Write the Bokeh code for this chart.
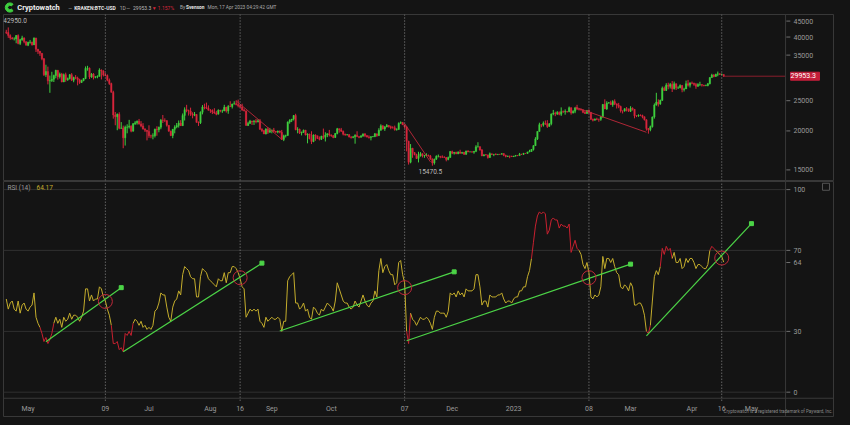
import numpy as np
import pandas as pd
from bokeh.plotting import figure
from bokeh.layouts import column
from bokeh.models import (Range1d, FixedTicker, Span, Label, ColumnDataSource,
                          NumeralTickFormatter)
from bokeh.core.properties import value
from bokeh.embed import file_html
from bokeh.resources import INLINE

# ---------------------------------------------------------------- data
START = "2022-04-20"
first_open = 41500

closes = [
    # Apr 2022 (20-30)
    41370, 40480, 39710, 39450, 39450, 40430, 38120, 39240, 39740, 38600, 37640,
    # May
    38470, 38530, 37750, 39690, 36550, 36010, 35470, 34060, 30300, 31020,
    28940, 29030, 29280, 30100, 31300, 29860, 30420, 28700, 30300, 29190,
    29430, 30300, 29100, 29650, 29540, 29200, 28620, 29020, 29460, 31730, 31790,
    # Jun
    29800, 30450, 29700, 29860, 29900, 31370, 31130, 30200, 30100, 29100,
    28400, 26600, 22500, 22200, 22600, 20400, 20450, 19000, 20550, 20570,
    20720, 19970, 21100, 21230, 21500, 21040, 20740, 20280, 20100, 19930,
    # Jul
    19300, 19250, 19300, 20230, 20190, 20550, 21630, 21600, 21590, 20850,
    19960, 19330, 20230, 20580, 20830, 21190, 20790, 22430, 23400, 23230,
    23160, 22680, 22460, 22580, 21310, 21250, 22950, 23850, 23780, 23640, 23300,
    # Aug
    23270, 22980, 22820, 22620, 23310, 23170, 23170, 23810, 23160, 23950,
    23930, 24400, 24440, 24300, 24100, 23850, 23340, 23200, 20830, 21140,
    21520, 21400, 21530, 21380, 21560, 20250, 20040, 19550, 20290, 19800, 20050,
    # Sep
    20130, 19950, 19830, 19990, 19800, 18790, 19290, 19320, 21360, 21650,
    21830, 22400, 20170, 20230, 19700, 19800, 20110, 19420, 19540, 18880,
    18490, 19410, 19300, 18920, 18800, 19220, 19080, 19410, 19590, 19420,
    # Oct
    19310, 19050, 19620, 20330, 20160, 19950, 19530, 19420, 19440, 19130,
    19060, 19150, 19380, 19180, 19070, 19260, 19550, 19330, 19120, 19040,
    19160, 19200, 19570, 19330, 20090, 20770, 20290, 20600, 20810, 20630, 20490,
    # Nov
    20480, 20160, 20200, 21150, 21300, 20910, 20600, 18540, 15880, 17590,
    17040, 16800, 16330, 16620, 16900, 16660, 16690, 16700, 16630, 16280,
    15780, 16230, 16600, 16600, 16520, 16460, 16440, 16210, 16440, 17170,
    # Dec
    16970, 17090, 16890, 17110, 16970, 17090, 16840, 17230, 17130, 17130,
    17100, 17200, 17780, 17810, 17360, 16630, 16780, 16740, 16440, 16900,
    16820, 16830, 16780, 16840, 16830, 16920, 16700, 16550, 16630, 16600, 16540,
    # Jan 2023
    16620, 16680, 16670, 16850, 16830, 16950, 16940, 17120, 17180, 17440,
    17940, 18850, 19930, 20950, 20870, 21180, 21130, 20670, 21070, 22670,
    22780, 22710, 22920, 22620, 23060, 23010, 23080, 23030, 23740, 22830, 23130,
    # Feb
    23730, 23490, 23430, 23330, 22940, 22760, 23240, 22960, 21800, 21630,
    21860, 21790, 21780, 22200, 24330, 23530, 24570, 24630, 24280, 24840,
    24450, 24190, 23950, 23190, 23160, 23560, 23490, 23140,
    # Mar
    23650, 23470, 22360, 22350, 22430, 22410, 22210, 21710, 20360, 20190,
    20630, 22160, 24200, 24750, 24380, 25060, 27420, 26970, 28040, 27790,
    28170, 27310, 28330, 27490, 27500, 27990, 27130, 27270, 28350, 28030, 28480,
    # Apr (1-17)
    28460, 28200, 27800, 28170, 28170, 28040, 27920, 27950, 28330, 29650,
    30230, 29890, 30390, 30490, 30320, 30320, 29953.3,
]

highs = [
    42200, 42950, 40800, 39990, 39930, 40600, 40800, 39470, 40380, 39900, 38800,
    38650, 39150, 38650, 39900, 39800, 36650, 36100, 35500, 34250, 32600,
    32150, 30100, 30950, 30300, 31400, 31300, 30780, 30700, 30550, 30750,
    29650, 30450, 30650, 29850, 30200, 29850, 29400, 29200, 29550, 32200, 32350,
    31950, 30650, 30650, 29950, 30150, 31750, 31500, 31300, 30650, 30350,
    29450, 28550, 26900, 23000, 22750, 22950, 21350, 20800, 20800, 21000,
    21700, 20850, 21200, 21500, 21600, 21850, 21500, 21180, 20400, 20150,
    20850, 19450, 19650, 20350, 20700, 20650, 21850, 22500, 21950, 21600,
    20850, 20050, 20300, 20850, 21200, 21600, 21650, 22750, 23800, 24250,
    23400, 23750, 22950, 23000, 22650, 21450, 23100, 24200, 24450, 24650, 24150,
    23500, 23450, 23650, 23200, 23450, 23350, 23400, 24250, 23900, 24200,
    24900, 24450, 24900, 25050, 25200, 24250, 24450, 23600, 23200, 21400,
    21700, 21550, 21650, 21850, 21800, 21850, 20400, 20150, 20400, 20550, 20450,
    20200, 20450, 19980, 20050, 20050, 20150, 19450, 19450, 21450, 21800,
    21850, 22500, 22700, 20550, 20350, 19900, 20200, 20150, 19650, 19600,
    19950, 19500, 19500, 19300, 19200, 19300, 20350, 19800, 19650, 20150,
    19480, 19400, 19700, 20450, 20350, 20450, 20050, 19600, 19550, 19550,
    19250, 19250, 19500, 19950, 19200, 19400, 19650, 19700, 19350, 19350,
    19250, 19250, 19700, 19600, 20400, 21000, 20850, 20750, 21050, 20900, 20800,
    20700, 20800, 20400, 21300, 21450, 21350, 20950, 20700, 18600, 18150,
    17650, 17100, 16900, 17150, 17100, 16950, 16750, 16950, 16800, 16750,
    16300, 16300, 16700, 16800, 16600, 16700, 16600, 16480, 16550, 17250,
    17300, 17100, 17150, 17200, 17400, 17100, 17100, 17300, 17350, 17200,
    17250, 17250, 18000, 18400, 17850, 17500, 16800, 16850, 16800, 17050,
    16900, 16850, 16950, 16850, 16850, 16950, 16950, 16780, 16650, 16650, 16650,
    16630, 16750, 16750, 17000, 16880, 17000, 16960, 17150, 17400, 17500,
    18000, 19100, 19950, 21250, 21000, 21450, 21600, 21650, 21200, 22750,
    23350, 23050, 23150, 23100, 23800, 23250, 23450, 23150, 23950, 23800, 23300,
    23800, 24250, 23600, 23600, 23450, 23150, 23350, 23450, 23000, 21900,
    21900, 22050, 21900, 22300, 24400, 25250, 24900, 24750, 25000, 25100,
    25250, 24450, 24600, 24100, 23250, 23650, 23850, 23600,
    24000, 23800, 23500, 22450, 22600, 22600, 22550, 22250, 21800, 20400,
    20800, 22250, 24500, 26500, 25250, 25200, 27750, 27750, 28450, 28550,
    28500, 28900, 28800, 28400, 27800, 28200, 28050, 27500, 29000, 29150, 28650,
    28800, 28550, 28500, 28450, 28750, 28200, 28100, 28150, 28500, 29750,
    30500, 30400, 30500, 31000, 30600, 30550, 30320,
]

lows = [
    40880, 39760, 39200, 39300, 39000, 38200, 37900, 37700, 38900, 38200, 37600,
    37400, 38100, 37550, 37700, 35800, 35300, 34800, 33700, 30000, 29800,
    28200, 26500, 28700, 28700, 29500, 29200, 29450, 28650, 28700, 28750,
    28950, 29250, 28900, 28650, 29300, 28000, 28300, 28500, 28850, 29300, 31200,
    29350, 29600, 29250, 29500, 29500, 29900, 29250, 29900, 29950, 28850,
    28100, 26550, 21900, 20850, 20100, 20250, 20300, 17600, 17950, 19650,
    20350, 19800, 19900, 20900, 20950, 20950, 20550, 20200, 19850, 18650,
    19000, 18950, 18800, 19050, 19300, 19800, 20250, 21200, 21350, 20650,
    19900, 19250, 18950, 19650, 20400, 20500, 20750, 20750, 21600, 22950,
    22400, 22350, 21950, 22300, 21250, 20750, 21050, 22600, 23450, 23500, 23250,
    22850, 22650, 22700, 22450, 22600, 22950, 22850, 23150, 22900, 22700,
    23850, 23600, 24300, 24150, 23800, 23700, 23200, 23100, 20800, 20750,
    21100, 20900, 20900, 21150, 21300, 20150, 19850, 19550, 19500, 19550, 19750,
    19650, 19800, 19700, 19650, 19650, 18700, 18550, 19050, 19300, 21100,
    21350, 21600, 20100, 19650, 19550, 19350, 19700, 19350, 18250, 18800,
    18150, 18400, 18600, 18850, 18650, 18700, 18850, 18500, 19100, 19200,
    19150, 18950, 19000, 19500, 19750, 19850, 19350, 19300, 19350, 19050,
    18900, 18950, 18200, 19100, 18950, 19050, 19150, 19100, 19050, 18900,
    18650, 19100, 19100, 19150, 19250, 20050, 20200, 20000, 20550, 20500, 20250,
    20350, 20050, 20050, 20200, 21100, 20900, 20400, 17200, 15600, 15750,
    16400, 16700, 16250, 15850, 16550, 16450, 16400, 16600, 16550, 16150,
    15470.5, 15600, 16150, 16450, 16350, 16400, 16400, 15980, 16100, 16400,
    16850, 16800, 16850, 16850, 16900, 16900, 16750, 16750, 17100, 17100,
    17080, 16900, 17100, 17700, 17300, 16600, 16600, 16700, 16300, 16400,
    16750, 16600, 16750, 16780, 16750, 16800, 16600, 16450, 16500, 16350, 16500,
    16500, 16550, 16600, 16650, 16750, 16750, 16900, 16900, 17100, 17150,
    17300, 17900, 18700, 19900, 20550, 20650, 20900, 20450, 20650, 20850,
    22450, 22300, 22500, 22450, 22350, 22850, 22550, 22900, 22980, 22550, 22750,
    22800, 23400, 23250, 23250, 22800, 22650, 22700, 22700, 21700, 21450,
    21600, 21650, 21400, 21550, 22050, 23500, 23350, 24450, 24250, 23900,
    24200, 23600, 23650, 22900, 22750, 23050, 23100, 23000,
    23000, 23250, 21950, 22150, 22200, 22300, 21950, 21600, 20050, 19600,
    19950, 20500, 21900, 24100, 23950, 24250, 24950, 26900, 26850, 27200,
    27350, 26650, 27150, 27050, 27250, 27400, 26600, 26750, 27250, 27750, 27550,
    28250, 27900, 27300, 27700, 27850, 27750, 27800, 27850, 27800, 28200,
    29600, 29700, 29850, 29950, 30250, 30150, 29800,
]

rsi_values = [
    # Apr 2022
    46, 41, 44, 45, 41, 40, 45, 39, 43, 44, 41,
    # May
    40, 42, 43, 49, 37, 34, 32, 29, 25, 27, 24, 26, 29, 34, 37, 34, 36, 32, 37, 35,
    36, 39, 36, 38, 38, 37, 35, 37, 40, 51, 51,
    # Jun
    45, 48, 45, 46, 46, 52, 51, 47, 45, 41, 38, 33, 24, 24, 25, 21, 22, 20, 29, 28,
    30, 28, 34, 36, 35, 33, 35, 32, 33, 31,
    # Jul
    32, 31, 33, 40, 41, 44, 49, 48, 48, 42, 37, 35, 42, 45, 46, 50, 48, 58, 62, 61,
    60, 57, 56, 56, 47, 47, 57, 61, 60, 59, 56,
    # Aug
    55, 54, 53, 52, 56, 55, 55, 59, 54, 59, 59, 62, 62, 61, 59, 56, 52, 51, 37, 39,
    41, 40, 41, 40, 41, 35, 34, 32, 37, 35, 36,
    # Sep
    37, 36, 36, 37, 36, 30, 35, 35, 55, 57, 58, 59, 44, 44, 41, 42, 44, 40, 41, 37,
    36, 42, 41, 39, 38, 41, 40, 42, 44, 43,
    # Oct
    42, 40, 45, 54, 51, 48, 45, 44, 44, 42, 41, 42, 45, 43, 42, 45, 48, 45, 43, 42,
    44, 45, 50, 47, 60, 66, 59, 62, 63, 60, 58,
    # Nov
    58, 53, 54, 64, 65, 58, 54, 30, 24, 39, 36, 35, 33, 35, 37, 36, 36, 37, 36, 34,
    31, 37, 40, 40, 39, 39, 39, 37, 40, 49,
    # Dec
    48, 49, 47, 50, 48, 49, 47, 51, 50, 50, 50, 51, 58, 58, 52, 43, 45, 45, 42, 48,
    47, 47, 47, 48, 48, 49, 46, 44, 45, 45, 44,
    # Jan 2023
    46, 47, 47, 50, 50, 52, 52, 57, 60, 66, 74, 82, 87, 89, 88, 89, 88, 78, 80, 85,
    86, 85, 85, 81, 83, 82, 82, 81, 83, 69, 72,
    # Feb
    75, 71, 70, 68, 63, 61, 64, 59, 47, 46, 48, 47, 48, 52, 67, 61, 66, 66, 64, 66,
    62, 59, 58, 52, 51, 53, 52, 50,
    # Mar
    54, 52, 43, 43, 44, 44, 42, 38, 30, 29, 33, 45, 57, 60, 58, 62, 71, 68, 72, 70,
    71, 66, 69, 64, 64, 66, 61, 62, 66, 64, 66,
    # Apr
    66, 64, 61, 63, 63, 62, 61, 61, 63, 70, 72, 71, 70, 69, 68, 67, 64.17,
]

tick_dates = ["2022-05-01", "2022-06-09", "2022-07-01", "2022-08-01", "2022-08-16",
              "2022-09-01", "2022-10-01", "2022-11-07", "2022-12-01", "2023-01-01",
              "2023-02-08", "2023-03-01", "2023-04-01", "2023-04-16", "2023-05-01"]
tick_labels = ["May", "09", "Jul", "Aug", "16", "Sep", "Oct", "07", "Dec", "2023",
               "08", "Mar", "Apr", "16", "May"]
marker_dates = ["2022-06-09", "2022-08-16", "2022-11-07", "2023-02-08", "2023-04-16"]

# the 30000 tick is covered by the last-price tag in the original
price_ticks = [15000, 20000, 25000, 35000, 40000, 45000]
rsi_ticks = [0, 30, 64, 70, 100]
rsi_levels = [0, 30, 70, 100]

# drawings (price panel): red trend lines
ptrend_d0 = ["2022-08-14", "2022-11-07", "2023-02-01"]
ptrend_v0 = [24970, 21120, 23850]
ptrend_d1 = ["2022-09-06", "2022-11-20", "2023-03-09"]
ptrend_v1 = [18810, 15920, 19800]

# drawings (RSI panel): green trend arrows and red circles
rtrend_d0 = ["2022-05-10", "2022-06-18", "2022-09-05", "2022-11-08", "2023-03-09"]
rtrend_v0 = [24.9, 20.0, 30.2, 25.4, 27.8]
rtrend_d1 = ["2022-06-17", "2022-08-27", "2022-12-02", "2023-03-01", "2023-05-01"]
rtrend_v1 = [51.6, 63.7, 59.4, 63.2, 83.2]
circle_dates = ["2022-06-09", "2022-08-16", "2022-11-07", "2023-02-08", "2023-04-16"]
circle_vals = [44.8, 56.5, 51.6, 56.5, 66.2]

header_texts = ["Cryptowatch", "\u2014", "KRAKEN:BTC-USD", "1D", "\u2014", "29953.3",
                "\u25bc 1.157%", "By", "Svenson", "Mon, 17 Apr 2023 04:29:42 GMT"]

# ---------------------------------------------------------------- style / layout
BG = "#141414"
FRAME = "#383838"
GRID = "#303030"
TXT = "#9a9a9a"
GREEN = "#3fcf3f"
RED = "#d8263c"
RSI_Y = "#c4ad2c"
RSI_R = "#c8202f"
TGREEN = "#4cd447"
FONT = "Roboto"

X_START, X_END = -1.4, 417.9   # visible day span (whole panel width)
AXIS_D = 393.2                 # day position of the price/RSI scale line
TICK_D = 394.6                 # day position of the small scale tick dashes
RSI_LO, RSI_HI = -12.5, 104.0  # RSI panel range, incl. the date-label strip
RSI_BASE = -3.0                # RSI value where the date strip begins

n = min(len(closes), len(highs), len(lows), len(rsi_values))
t0 = pd.Timestamp(START)


def day(s):
    return (pd.Timestamp(s) - t0).days


close = np.array(closes[:n], dtype=float)
high = np.array(highs[:n], dtype=float)
low = np.array(lows[:n], dtype=float)
opn = np.concatenate([[first_open], close[:-1]])
rsi = np.array(rsi_values[:n], dtype=float)
idx = np.arange(n)

xr = Range1d(X_START, X_END)


def style_scale_axis(axis, standoff):
    axis.minor_tick_line_color = None
    axis.major_tick_line_color = None
    axis.major_tick_in = 0
    axis.major_tick_out = 0
    axis.axis_line_color = None
    axis.major_label_text_color = TXT
    axis.major_label_text_font_size = "7px"
    axis.major_label_text_font = FONT
    axis.major_label_standoff = standoff


# ---------------------------------------------------------------- header
hdr = figure(frame_width=834, frame_height=14, x_range=Range1d(0, 850), y_range=Range1d(14, 0),
             toolbar_location=None, output_backend="svg", x_axis_location=None,
             y_axis_location=None, min_border=0, background_fill_color=BG,
             border_fill_color=BG, outline_line_color=None)
hdr.grid.visible = False
hdr.annular_wedge(x=[6.5], y=[7], inner_radius=2.2, outer_radius=4.6,
                  inner_radius_units="screen", outer_radius_units="screen",
                  start_angle=0.8, end_angle=5.5, color=GREEN)
hsrc = ColumnDataSource(dict(
    x=[14, 66, 72, 118.5, 125, 132, 151, 180, 186, 208],
    text=header_texts,
    color=["#eeeeee", "#aaaaaa", "#e6e6e6", "#aaaaaa", "#aaaaaa", "#bbbbbb",
           "#d8263c", "#aaaaaa", "#e6e6e6", "#aaaaaa"],
    style=["bold", "normal", "bold", "normal", "normal", "normal", "normal",
           "normal", "bold", "normal"],
    size=["7.5px", "5px", "5px", "5px", "5px", "5px", "5px", "4.8px", "4.8px", "4.8px"],
))
hdr.text(x="x", y=7.3, text="text", source=hsrc, text_color="color",
         text_font_style="style", text_font_size="size", text_baseline="middle",
         text_align="left", text_font=value(FONT))

# ---------------------------------------------------------------- price panel
price = figure(frame_width=831, frame_height=166, x_range=xr,
               y_range=Range1d(13870, 47240), y_axis_type="log",
               y_axis_location="right", x_axis_location=None, toolbar_location=None,
               output_backend="svg", min_border_left=3, min_border_right=0,
               min_border_top=0, min_border_bottom=1, background_fill_color=BG,
               border_fill_color=BG, outline_line_color=FRAME)
price.grid.visible = False
ax = price.yaxis[0]
ax.ticker = FixedTicker(ticks=price_ticks)
ax.formatter = NumeralTickFormatter(format="0")
style_scale_axis(ax, -41)

price.add_layout(Span(location=AXIS_D, dimension="height", line_color=FRAME, line_width=1))
price.scatter(x=[TICK_D] * len(price_ticks), y=price_ticks, marker="dash", size=4,
              line_color="#707070")

for dstr in marker_dates:
    price.add_layout(Span(location=day(dstr), dimension="height", line_color="#8a8a8a",
                          line_dash="1 2", line_width=1))

up = close >= opn
for mask, col in ((up, GREEN), (~up, RED)):
    src = ColumnDataSource(dict(
        x=idx[mask], hi=high[mask], lo=low[mask],
        top=np.maximum(opn, close)[mask], bot=np.minimum(opn, close)[mask]))
    price.segment(x0="x", y0="hi", x1="x", y1="lo", source=src, line_color=col, line_width=1)
    price.vbar(x="x", width=0.72, top="top", bottom="bot", source=src,
               fill_color=col, line_color=col, line_width=0.4)

price.segment(x0=[day(s) for s in ptrend_d0], y0=ptrend_v0,
              x1=[day(s) for s in ptrend_d1], y1=ptrend_v1,
              line_color="#c0283a", line_width=1, line_alpha=0.9)

# last price line + tag
price.segment(x0=[idx[-1]], y0=[close[-1]], x1=[AXIS_D], y1=[close[-1]],
              line_color="#8a1f2c", line_width=1)
price.add_layout(Label(x=AXIS_D, y=close[-1], x_offset=5, text=f" {close[-1]:.1f} ",
                       text_color="#ffffff", text_font_size="7px", text_font=FONT,
                       text_baseline="middle", background_fill_color="#c41e3a",
                       background_fill_alpha=1.0, border_line_color="#c41e3a"))
ih = int(np.argmax(high))
price.add_layout(Label(x=ih, y=high[ih], x_offset=-5, y_offset=7, text=f"{high[ih]:.1f}",
                       text_color="#bbbbbb", text_font_size="6.5px", text_font=FONT,
                       text_baseline="middle", text_align="left"))
il = int(np.argmin(low))
price.add_layout(Label(x=il, y=low[il], x_offset=-2, y_offset=-6, text=f"{low[il]:.1f}",
                       text_color="#bbbbbb", text_font_size="6.5px", text_font=FONT,
                       text_baseline="middle", text_align="center"))

# ---------------------------------------------------------------- RSI panel
rp = figure(frame_width=831, frame_height=236, x_range=xr, y_range=Range1d(RSI_LO, RSI_HI),
            y_axis_location="right", x_axis_location="below", toolbar_location=None,
            output_backend="svg", min_border_left=3, min_border_right=0,
            min_border_top=0, min_border_bottom=0, background_fill_color=BG,
            border_fill_color=BG, outline_line_color=FRAME)
rp.grid.visible = False
ry = rp.yaxis[0]
ry.ticker = FixedTicker(ticks=rsi_ticks)
style_scale_axis(ry, -41)

rx = rp.xaxis[0]
tick_pos = [day(s) for s in tick_dates]
rx.ticker = FixedTicker(ticks=tick_pos)
rx.major_label_overrides = {p: l for p, l in zip(tick_pos, tick_labels)}
style_scale_axis(rx, -13)

# scale line, date-strip line, level lines, tick dashes
rp.add_layout(Span(location=AXIS_D, dimension="height", line_color=FRAME, line_width=1))
rp.add_layout(Span(location=RSI_BASE, dimension="width", line_color=FRAME, line_width=1))
rp.segment(x0=[X_START] * len(rsi_levels), y0=rsi_levels, x1=[AXIS_D] * len(rsi_levels),
           y1=rsi_levels, line_color=GRID, line_width=1)
rp.scatter(x=[TICK_D] * len(rsi_ticks), y=rsi_ticks, marker="dash", size=4,
           line_color="#707070")

md = [day(s) for s in marker_dates]
rp.segment(x0=md, y0=[RSI_BASE - 1.2] * len(md), x1=md, y1=[RSI_HI] * len(md),
           line_color="#8a8a8a", line_dash="1 2", line_width=1)

a, b = rsi[:-1], rsi[1:]
seg_col = [RSI_R if (max(u, v) > 70 or min(u, v) < 30) else RSI_Y for u, v in zip(a, b)]
rp.segment(x0=idx[:-1], y0=a, x1=idx[1:], y1=b, line_color=seg_col, line_width=1)

tx0 = [day(s) for s in rtrend_d0]
tx1 = [day(s) for s in rtrend_d1]
rp.segment(x0=tx0, y0=rtrend_v0, x1=tx1, y1=rtrend_v1, line_color=TGREEN, line_width=1.2)
rp.scatter(x=tx1, y=rtrend_v1, marker="square", size=4, color=TGREEN)
rp.scatter(x=[day(s) for s in circle_dates], y=circle_vals, marker="circle", size=14,
           fill_alpha=0, line_color="#c0283a", line_width=1)

# small panel-options box at top right
rp.scatter(x=[X_END - 4.3], y=[RSI_HI - 2.6], marker="square", size=7, fill_alpha=0,
           line_color="#555555", line_width=1)

rp.add_layout(Label(x=X_START, y=RSI_HI, x_offset=4, y_offset=-6, text="RSI (14)",
                    text_color=TXT, text_font_size="6.5px", text_font=FONT,
                    text_baseline="middle"))
rp.add_layout(Label(x=X_START, y=RSI_HI, x_offset=33, y_offset=-6, text=f"{rsi[-1]:.2f}",
                    text_color=RSI_Y, text_font_size="6.5px", text_font=FONT,
                    text_baseline="middle"))
rp.add_layout(Label(x=X_END, y=RSI_LO, x_offset=-2, y_offset=6,
                    text="Cryptowatch is a registered trademark of Payward, Inc.",
                    text_color="#8a8a8a", text_font_size="4.5px", text_font=FONT,
                    text_baseline="middle", text_align="right"))

layout = column(hdr, price, rp, spacing=0, background=BG)

html = file_html(layout, INLINE, title="KRAKEN:BTC-USD")
html = html.replace("</head>", "<style>html,body{background:#141414;}</style></head>", 1)
open("out.html", "w").write(html)
